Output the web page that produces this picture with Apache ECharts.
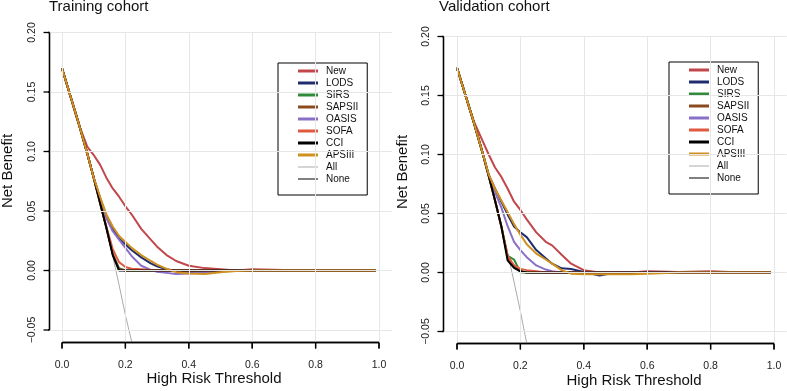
<!DOCTYPE html>
<html>
<head>
<meta charset="utf-8">
<script src="https://cdn.jsdelivr.net/npm/echarts@6/dist/echarts.min.js"></script>
<style>
html, body { margin: 0; padding: 0; background: #fff; }
#chart { width: 787px; height: 391px; background: #fff; }
</style>
</head>
<body>
<div id="chart"></div>
<script>
// thresholds shared by the model curves
const thresholds = [0, 0.05, 0.08, 0.1, 0.12, 0.14, 0.16, 0.18, 0.2, 0.22, 0.25, 0.28, 0.3, 0.33, 0.36, 0.4, 0.45, 0.5, 0.55, 0.6, 0.7, 0.8, 0.9, 0.99];
const allThresholds = [0, 0.05, 0.08, 0.1, 0.12, 0.14, 0.16, 0.18, 0.2, 0.22];
const noneThresholds = [0, 0.99];
const noneValues = [0, 0];

const modelNames = ['New', 'LODS', 'SIRS', 'SAPSII', 'OASIS', 'SOFA', 'CCI', 'APSIII'];
const modelColors = ['#c2474b', '#1f2d6e', '#2e8b3a', '#8b4a1f', '#8a6fc8', '#e05a3f', '#000000', '#cf901d'];

const xTicks = ['0.0', '0.2', '0.4', '0.6', '0.8', '1.0'];
const yTicks = ['-0.05', '0.00', '0.05', '0.10', '0.15', '0.20'];

// Training cohort
const trainAll    = [0.170, 0.126, 0.098, 0.078, 0.057, 0.035, 0.012, -0.012, -0.0375, -0.060];
const trainNew    = [0.170, 0.125, 0.104, 0.097, 0.089, 0.078, 0.069, 0.062, 0.054, 0.047, 0.035, 0.026, 0.020, 0.013, 0.008, 0.004, 0.002, 0.001, 0.000, 0.001, 0.0005, 0, 0, 0];
const trainLODS   = [0.170, 0.126, 0.098, 0.078, 0.061, 0.046, 0.035, 0.027, 0.022, 0.017, 0.011, 0.006, 0.0035, 0.001, -0.0005, -0.001, -0.001, 0, 0, 0, 0, 0, 0, 0];
const trainSIRS   = [0.170, 0.126, 0.098, 0.078, 0.057, 0.036, 0.014, 0.002, 0, 0, 0, 0, 0, 0, 0, 0, 0, 0, 0, 0, 0, 0, 0, 0];
const trainSAPSII = [0.170, 0.126, 0.098, 0.078, 0.057, 0.036, 0.014, 0.001, 0, 0, 0, 0, 0, 0, 0, 0, 0, 0, 0, 0, 0, 0, 0, 0];
const trainOASIS  = [0.170, 0.126, 0.098, 0.078, 0.060, 0.044, 0.033, 0.026, 0.019, 0.012, 0.004, 0.0005, -0.001, -0.002, -0.003, -0.0025, -0.0015, -0.0005, 0, 0, 0, 0, 0, 0];
const trainSOFA   = [0.170, 0.126, 0.098, 0.078, 0.057, 0.037, 0.018, 0.007, 0.003, 0.0015, 0.001, 0.0005, 0, 0, 0, 0, 0, 0, 0, 0, 0, 0, 0, 0];
const trainCCI    = [0.170, 0.126, 0.098, 0.078, 0.057, 0.036, 0.013, 0.000, 0, 0, 0, 0, 0, 0, 0, 0, 0, 0, 0, 0, 0, 0, 0, 0];
const trainAPSIII = [0.170, 0.126, 0.098, 0.078, 0.062, 0.047, 0.037, 0.029, 0.024, 0.019, 0.013, 0.008, 0.005, 0.0014, -0.0014, -0.0025, -0.003, -0.0015, -0.0005, 0, 0, 0, 0, 0];

// Validation cohort
const validAll    = [0.1735, 0.130, 0.102, 0.082, 0.061, 0.039, 0.016, -0.008, -0.033, -0.060];
const validNew    = [0.1735, 0.130, 0.112, 0.100, 0.089, 0.081, 0.071, 0.060, 0.053, 0.045, 0.034, 0.026, 0.023, 0.015, 0.0075, 0.002, 0, 0.0005, 0, 0.001, 0.0005, 0.001, 0, 0];
const validLODS   = [0.1735, 0.130, 0.102, 0.083, 0.071, 0.060, 0.049, 0.039, 0.034, 0.030, 0.019, 0.012, 0.0075, 0.0035, 0.003, 0.0005, -0.0025, 0, 0, 0, 0.0005, 0, 0, 0];
const validSIRS   = [0.1735, 0.130, 0.102, 0.082, 0.061, 0.039, 0.014, 0.011, 0, 0, 0, 0, 0, 0, 0, 0, 0, 0, 0, 0, 0, 0, 0, 0];
const validSAPSII = [0.1735, 0.130, 0.102, 0.082, 0.061, 0.039, 0.012, 0.005, 0.001, 0, 0, 0, 0, 0, 0, 0, 0, 0, 0, 0, 0, 0, 0, 0];
const validOASIS  = [0.1735, 0.130, 0.102, 0.082, 0.068, 0.055, 0.039, 0.026, 0.019, 0.013, 0.006, 0.0025, 0.001, 0, 0, 0, 0, 0, 0, 0, 0, 0, 0, 0];
const validSOFA   = [0.1735, 0.130, 0.102, 0.082, 0.061, 0.039, 0.014, 0.006, 0.003, 0.002, 0.001, 0, 0, 0, 0, 0, 0, 0, 0, 0, 0, 0, 0, 0];
const validCCI    = [0.1735, 0.130, 0.102, 0.082, 0.061, 0.039, 0.010, 0.004, 0.001, 0, 0, 0, 0, 0, 0, 0, 0, 0, 0, 0, 0, 0, 0, 0];
const validAPSIII = [0.1735, 0.130, 0.102, 0.083, 0.071, 0.061, 0.051, 0.041, 0.032, 0.024, 0.016, 0.011, 0.0075, 0.002, -0.001, -0.0015, -0.0015, -0.0015, -0.0015, -0.001, 0, 0, 0, 0];

const FONT = 'Liberation Sans, Arial, Helvetica, sans-serif';
// legend sample lines: thick for models, thin for All / None (M points fix the 20x10 box)
const THICK_ICON = 'path://M0,0 M20,10 M0,3.5 L20,3.5 L20,6.5 L0,6.5 Z';
const THIN_ICON = 'path://M0,0 M20,10 M0,4.5 L20,4.5 L20,5.5 L0,5.5 Z';
const TICK_LEN = 6;
const GAP = ['-', '-'];

// pixel layout of the two panels (yTop = 0.20, yBot = -0.05, x0 = 0.0)
const panels = [
    { title: 'Training cohort', titleX: 49, x0: 62, yTop: 32.5, yBot: 330, yAxisX: 49.5, xAxisY: 342.5,
      legendLeft: 278, legendTop: 63, nameX: 214, nameY: 379, ylabX: 7.5, ylabY: 171,
      all: trainAll, models: [trainNew, trainLODS, trainSIRS, trainSAPSII, trainOASIS, trainSOFA, trainCCI, trainAPSIII] },
    { title: 'Validation cohort', titleX: 439, x0: 457, yTop: 36.5, yBot: 331.5, yAxisX: 443.5, xAxisY: 343.5,
      legendLeft: 669, legendTop: 62, nameX: 634, nameY: 381, ylabX: 402.5, ylabY: 172,
      all: validAll, models: [validNew, validLODS, validSIRS, validSAPSII, validOASIS, validSOFA, validCCI, validAPSIII] }
];
const unitX = 317;

function pairs(xs, ys) {
    return xs.map((x, i) => [x, ys[i]]);
}

function buildOption() {
    let grid = [], xAxis = [], yAxis = [], series = [], legend = [], graphic = [];

    let gridLines = [];
    xTicks.forEach(t => gridLines.push({ xAxis: Number(t) }));
    yTicks.forEach(t => gridLines.push({ yAxis: Number(t) }));

    let legendData = modelNames.map(n => ({ name: n, icon: THICK_ICON }));
    legendData.push({ name: 'All', icon: THIN_ICON }, { name: 'None', icon: THIN_ICON });

    panels.forEach((p, k) => {
        let perY = (p.yBot - p.yTop) / 0.25;
        let gPlot = k * 3, gX = k * 3 + 1, gY = k * 3 + 2;
        p.xMin = -(p.x0 - p.yAxisX) / unitX;
        p.xMax = 1.04;
        p.yMin = -0.05 - (p.xAxisY - p.yBot) / perY;

        // plot region (R style, wider than the data range): data, grid lines, axis lines
        grid.push({ left: p.yAxisX, top: p.yTop, width: (p.xMax - p.xMin) * unitX, height: p.xAxisY - p.yTop });
        xAxis.push({ type: 'value', gridIndex: gPlot, min: p.xMin, max: p.xMax, show: false });
        yAxis.push({ type: 'value', gridIndex: gPlot, min: p.yMin, max: 0.2, show: false });

        // label-only axes
        grid.push({ left: p.x0, top: p.xAxisY, width: unitX, height: TICK_LEN });
        xAxis.push({
            type: 'value', gridIndex: gX, min: 0, max: 1, interval: 0.2, position: 'bottom',
            axisLine: { show: false }, axisTick: { show: false }, splitLine: { show: false },
            axisLabel: { fontSize: 10.5, fontFamily: FONT, color: '#222', margin: 11,
                formatter: v => v.toFixed(1) }
        });
        yAxis.push({ type: 'value', gridIndex: gX, min: 0, max: 1, show: false });

        grid.push({ left: p.yAxisX - TICK_LEN, top: p.yTop, width: TICK_LEN, height: p.yBot - p.yTop });
        xAxis.push({ type: 'value', gridIndex: gY, min: 0, max: 1, show: false });
        yAxis.push({
            type: 'value', gridIndex: gY, min: -0.05, max: 0.2, interval: 0.05, position: 'left',
            axisLine: { show: false }, axisTick: { show: false }, splitLine: { show: false },
            axisLabel: { fontSize: 10.5, fontFamily: FONT, color: '#222', margin: 6, rotate: 90,
                formatter: v => (v < -0.001 ? '\u2212' + Math.abs(v).toFixed(2) : Math.abs(v).toFixed(2)) }
        });

        // light grid lines across the whole plot region
        series.push({ type: 'line', xAxisIndex: gPlot, yAxisIndex: gPlot, data: [],
            symbol: 'none', lineStyle: { opacity: 0 }, silent: true, animation: false,
            markLine: { silent: true, symbol: ['none', 'none'], label: { show: false },
                lineStyle: { color: '#e6e6e6', type: 'solid', width: 1 }, emphasis: { disabled: true },
                animation: false, data: gridLines } });

        // R-style detached axes: line from first to last tick, ticks pointing outward
        let xAx = [[0, p.yMin], [1, p.yMin]];
        xTicks.forEach(t => xAx.push(GAP, [Number(t), p.yMin], [Number(t), p.yMin - TICK_LEN / perY]));
        let yAx = [[p.xMin, -0.05], [p.xMin, 0.2]];
        yTicks.forEach(t => yAx.push(GAP, [p.xMin, Number(t)], [p.xMin - TICK_LEN / unitX, Number(t)]));
        [xAx, yAx].forEach(d => series.push({ type: 'line', xAxisIndex: gPlot, yAxisIndex: gPlot, data: d,
            symbol: 'none', showSymbol: false, connectNulls: false, clip: false, silent: true, animation: false,
            lineStyle: { color: '#000', width: 1.3 }, emphasis: { disabled: true } }));

        let base = { type: 'line', xAxisIndex: gPlot, yAxisIndex: gPlot, symbol: 'none', showSymbol: false,
            clip: true, animation: false, silent: true, emphasis: { disabled: true } };
        series.push(Object.assign({}, base, { name: 'All', data: pairs(allThresholds, p.all),
            lineStyle: { color: '#aaaaaa', width: 1 }, itemStyle: { color: '#aaaaaa' } }));
        series.push(Object.assign({}, base, { name: 'None', data: pairs(noneThresholds, noneValues),
            lineStyle: { color: '#000', width: 1.2 }, itemStyle: { color: '#000' } }));
        modelNames.forEach((name, i) => {
            series.push(Object.assign({}, base, { name: name, data: pairs(thresholds, p.models[i]),
                lineStyle: { color: modelColors[i], width: 2 }, itemStyle: { color: modelColors[i] } }));
        });

        legend.push({
            orient: 'vertical', left: p.legendLeft, top: p.legendTop,
            data: legendData,
            itemWidth: 20, itemHeight: 10, itemGap: 2,
            padding: [3, 9, 11, 20],
            borderColor: '#000', borderWidth: 1, borderRadius: 0,
            selectedMode: false,
            itemStyle: { borderWidth: 0 },
            textStyle: { fontSize: 10, fontFamily: FONT, color: '#111', lineHeight: 10, padding: [0, 0, 0, 3] }
        });

        graphic.push({ id: 'title' + k, type: 'text', left: p.titleX, top: -1,
            style: { text: p.title, font: '15px ' + FONT, fill: '#111' } });
        graphic.push({ id: 'xname' + k, type: 'text', x: p.nameX, y: p.nameY,
            style: { text: 'High Risk Threshold', font: '15px ' + FONT, fill: '#111', align: 'center', verticalAlign: 'middle' } });
        graphic.push({ id: 'yname' + k, type: 'text', x: p.ylabX, y: p.ylabY, rotation: Math.PI / 2,
            style: { text: 'Net Benefit', font: '15px ' + FONT, fill: '#111', align: 'center', verticalAlign: 'middle' } });
    });

    return { animation: false, grid, xAxis, yAxis, series, legend, graphic };
}

// axis lines + ticks as graphic strokes, placed through the plot grids' own scales
function axisGraphics(chart) {
    let out = [];
    panels.forEach((p, k) => {
        const px = v => chart.convertToPixel({ gridIndex: k * 3 }, v);
        const seg = (id, a, b) => out.push({ id: id, type: 'line', silent: true, z: 100,
            shape: { x1: a[0], y1: a[1], x2: b[0], y2: b[1] }, style: { stroke: '#000', lineWidth: 1.3 } });
        seg('xline' + k, px([0, p.yMin]), px([1, p.yMin]));
        seg('yline' + k, px([p.xMin, -0.05]), px([p.xMin, 0.2]));
        xTicks.forEach((t, i) => {
            let a = px([Number(t), p.yMin]);
            seg('xt' + k + '_' + i, a, [a[0], a[1] + TICK_LEN]);
        });
        yTicks.forEach((t, i) => {
            let a = px([p.xMin, Number(t)]);
            seg('yt' + k + '_' + i, a, [a[0] - TICK_LEN, a[1]]);
        });
    });
    return out;
}

let myChart = echarts.init(document.getElementById('chart'));
myChart.setOption(buildOption());
myChart.setOption({ graphic: axisGraphics(myChart) });
</script>
</body>
</html>
